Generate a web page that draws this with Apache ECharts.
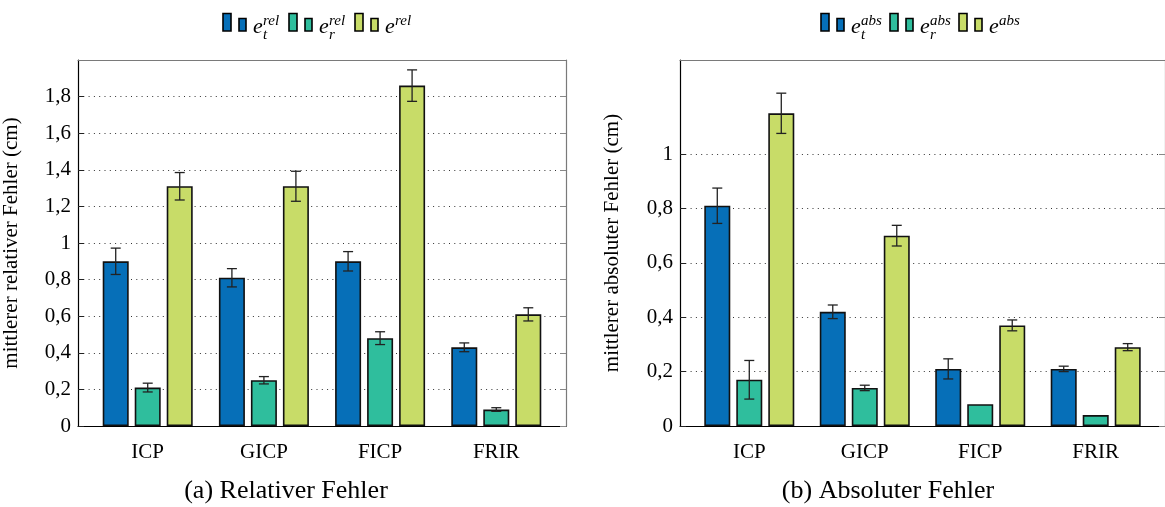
<!DOCTYPE html>
<html>
<head>
<meta charset="utf-8">
<script src="https://cdn.jsdelivr.net/npm/echarts@6/dist/echarts.min.js"></script>
<style>
  html, body { margin: 0; padding: 0; background: #fff; }
  #chart { width: 1165px; height: 507px; }
</style>
</head>
<body>
<div id="chart"></div>
<script>
// Methods compared in both panels
const categories = ['ICP', 'GICP', 'FICP', 'FRIR'];

// (a) relative error: translation, rotation, total (mean ± std)
const relT = [0.90, 0.81, 0.90, 0.43];
const relR = [0.21, 0.25, 0.48, 0.09];
const relE = [1.31, 1.31, 1.86, 0.61];
const relTErr = [0.072, 0.050, 0.053, 0.024];
const relRErr = [0.024, 0.020, 0.035, 0.010];
const relEErr = [0.075, 0.082, 0.086, 0.036];

// (b) absolute error: translation, rotation, total (mean ± std)
const absT = [0.81, 0.42, 0.21, 0.21];
const absR = [0.17, 0.14, 0.08, 0.04];
const absE = [1.15, 0.70, 0.37, 0.29];
const absTErr = [0.065, 0.025, 0.037, 0.010];
const absRErr = [0.071, 0.010, 0, 0];
const absEErr = [0.074, 0.038, 0.020, 0.013];

// y tick labels
const relTicks = [0, 0.2, 0.4, 0.6, 0.8, 1, 1.2, 1.4, 1.6, 1.8];
const absTicks = [0, 0.2, 0.4, 0.6, 0.8, 1];

const COLORS = ['#066fb8', '#2fbe9d', '#c8dc68'];
const FONT = '"Liberation Serif", "DejaVu Serif", serif';
const BAR_W = 26;
const BAR_GAP = 6;

const fmt = v => String(+(+v).toFixed(2)).replace('.', ',');

const chart = echarts.init(document.getElementById('chart'), null, { renderer: 'canvas' });

function xAxes(gridIndex) {
  return [
    {
      gridIndex, type: 'value', min: -0.6, max: 3.6, position: 'bottom',
      axisLine: { show: true, onZero: false, lineStyle: { color: '#000', width: 1.2 } },
      axisTick: { show: false },
      splitLine: { show: false },
      axisLabel: {
        customValues: [0, 1, 2, 3],
        formatter: v => categories[Math.round(v)] || '',
        fontFamily: FONT, fontSize: 21, color: '#000', margin: 16
      }
    },
    {
      gridIndex, type: 'value', min: -0.6, max: 3.6, position: 'top',
      axisLine: { show: true, onZero: false, lineStyle: { color: '#7a7a7a', width: 1.2 } },
      axisTick: { show: false }, axisLabel: { show: false }, splitLine: { show: false }
    }
  ];
}

function yAxes(gridIndex, max, ticks, name, nameGap) {
  return [
    {
      gridIndex, type: 'value', min: 0, max, position: 'left',
      name, nameLocation: 'middle', nameRotate: 90, nameGap,
      nameTextStyle: { fontFamily: FONT, fontSize: 21, color: '#000' },
      axisLine: { show: true, onZero: false, lineStyle: { color: '#000', width: 1.2 } },
      axisTick: { show: true, inside: true, length: 6, customValues: ticks, lineStyle: { color: '#222' } },
      axisLabel: { customValues: ticks, formatter: fmt, fontFamily: FONT, fontSize: 21, color: '#000', margin: 7 },
      splitLine: { show: true, lineStyle: { color: '#333', width: 1, type: [1, 4.3] } }
    },
    {
      gridIndex, type: 'value', min: 0, max, position: 'right',
      axisLine: { show: true, onZero: false, lineStyle: { color: '#7a7a7a', width: 1.2 } },
      axisTick: { show: true, inside: true, length: 6, customValues: ticks, lineStyle: { color: '#888' } },
      axisLabel: { show: false }, splitLine: { show: false }
    }
  ];
}

function barSeries(axisBase, values, k, name) {
  return {
    type: 'bar', name,
    xAxisIndex: axisBase, yAxisIndex: axisBase,
    data: values.map((v, i) => [i, v]),
    barWidth: BAR_W, barGap: (BAR_GAP / BAR_W * 100) + '%',
    itemStyle: { color: COLORS[k], borderColor: '#111', borderWidth: 1.6 },
    z: 3
  };
}

function errorSeries(axisBase, values, errs, k) {
  return {
    type: 'custom',
    xAxisIndex: axisBase, yAxisIndex: axisBase,
    data: values.map((v, i) => [i, v, errs[i]]),
    encode: { x: 0, y: 1 },
    z: 10,
    renderItem(params, api) {
      const i = api.value(0), v = api.value(1), e = api.value(2);
      if (!e) return null;
      const hi = api.coord([i, v + e]);
      const lo = api.coord([i, v - e]);
      const x = hi[0] + (k - 1) * (BAR_W + BAR_GAP);
      const cap = 5;
      const st = { stroke: '#222', lineWidth: 1.3 };
      return {
        type: 'group',
        children: [
          { type: 'line', shape: { x1: x, y1: hi[1], x2: x, y2: lo[1] }, style: st },
          { type: 'line', shape: { x1: x - cap, y1: hi[1], x2: x + cap, y2: hi[1] }, style: st },
          { type: 'line', shape: { x1: x - cap, y1: lo[1], x2: x + cap, y2: lo[1] }, style: st }
        ]
      };
    }
  };
}

// legend entry: two swatches followed by e with sub/superscript
function legendItem(x0, color, sub, sup) {
  const sw = { fill: color, stroke: '#000', lineWidth: 1.6 };
  const items = [
    { type: 'rect', shape: { x: x0, y: 13.5, width: 8, height: 17.5 }, style: sw },
    { type: 'rect', shape: { x: x0 + 16, y: 18.5, width: 7, height: 12.5 }, style: sw },
    { type: 'text', x: x0 + 30, y: 27, style: { text: 'e', font: 'italic 22px ' + FONT, fill: '#000', verticalAlign: 'middle' } },
    { type: 'text', x: x0 + 40, y: 21.5, style: { text: sup, font: 'italic 15px ' + FONT, fill: '#000', verticalAlign: 'middle' } }
  ];
  if (sub) {
    items.push({ type: 'text', x: x0 + 40, y: 35.5, style: { text: sub, font: 'italic 15px ' + FONT, fill: '#000', verticalAlign: 'middle' } });
  }
  return items;
}

const graphics = [].concat(
  legendItem(223, COLORS[0], 't', 'rel'),
  legendItem(289, COLORS[1], 'r', 'rel'),
  legendItem(355, COLORS[2], '', 'rel'),
  legendItem(821, COLORS[0], 't', 'abs'),
  legendItem(890, COLORS[1], 'r', 'abs'),
  legendItem(959, COLORS[2], '', 'abs'),
  [
    { type: 'text', x: 286, y: 491, style: { text: '(a) Relativer Fehler', font: '26px ' + FONT, fill: '#000', align: 'center', verticalAlign: 'middle' } },
    { type: 'text', x: 888, y: 491, style: { text: '(b) Absoluter Fehler', font: '26px ' + FONT, fill: '#000', align: 'center', verticalAlign: 'middle' } }
  ]
);

chart.setOption({
  animation: false,
  backgroundColor: '#fff',
  grid: [
    { left: 77, top: 60, width: 489, height: 366 },
    { left: 680, top: 60, width: 489, height: 366 }
  ],
  xAxis: [].concat(xAxes(0), xAxes(1)),
  yAxis: [].concat(
    yAxes(0, 2.0, relTicks, 'mittlerer relativer Fehler (cm)', 56),
    yAxes(1, 1.346, absTicks, 'mittlerer absoluter Fehler (cm)', 57)
  ),
  series: [
    barSeries(0, relT, 0, 'e_t^rel'),
    barSeries(0, relR, 1, 'e_r^rel'),
    barSeries(0, relE, 2, 'e^rel'),
    errorSeries(0, relT, relTErr, 0),
    errorSeries(0, relR, relRErr, 1),
    errorSeries(0, relE, relEErr, 2),
    barSeries(2, absT, 0, 'e_t^abs'),
    barSeries(2, absR, 1, 'e_r^abs'),
    barSeries(2, absE, 2, 'e^abs'),
    errorSeries(2, absT, absTErr, 0),
    errorSeries(2, absR, absRErr, 1),
    errorSeries(2, absE, absEErr, 2)
  ],
  graphic: graphics
});
</script>
</body>
</html>
